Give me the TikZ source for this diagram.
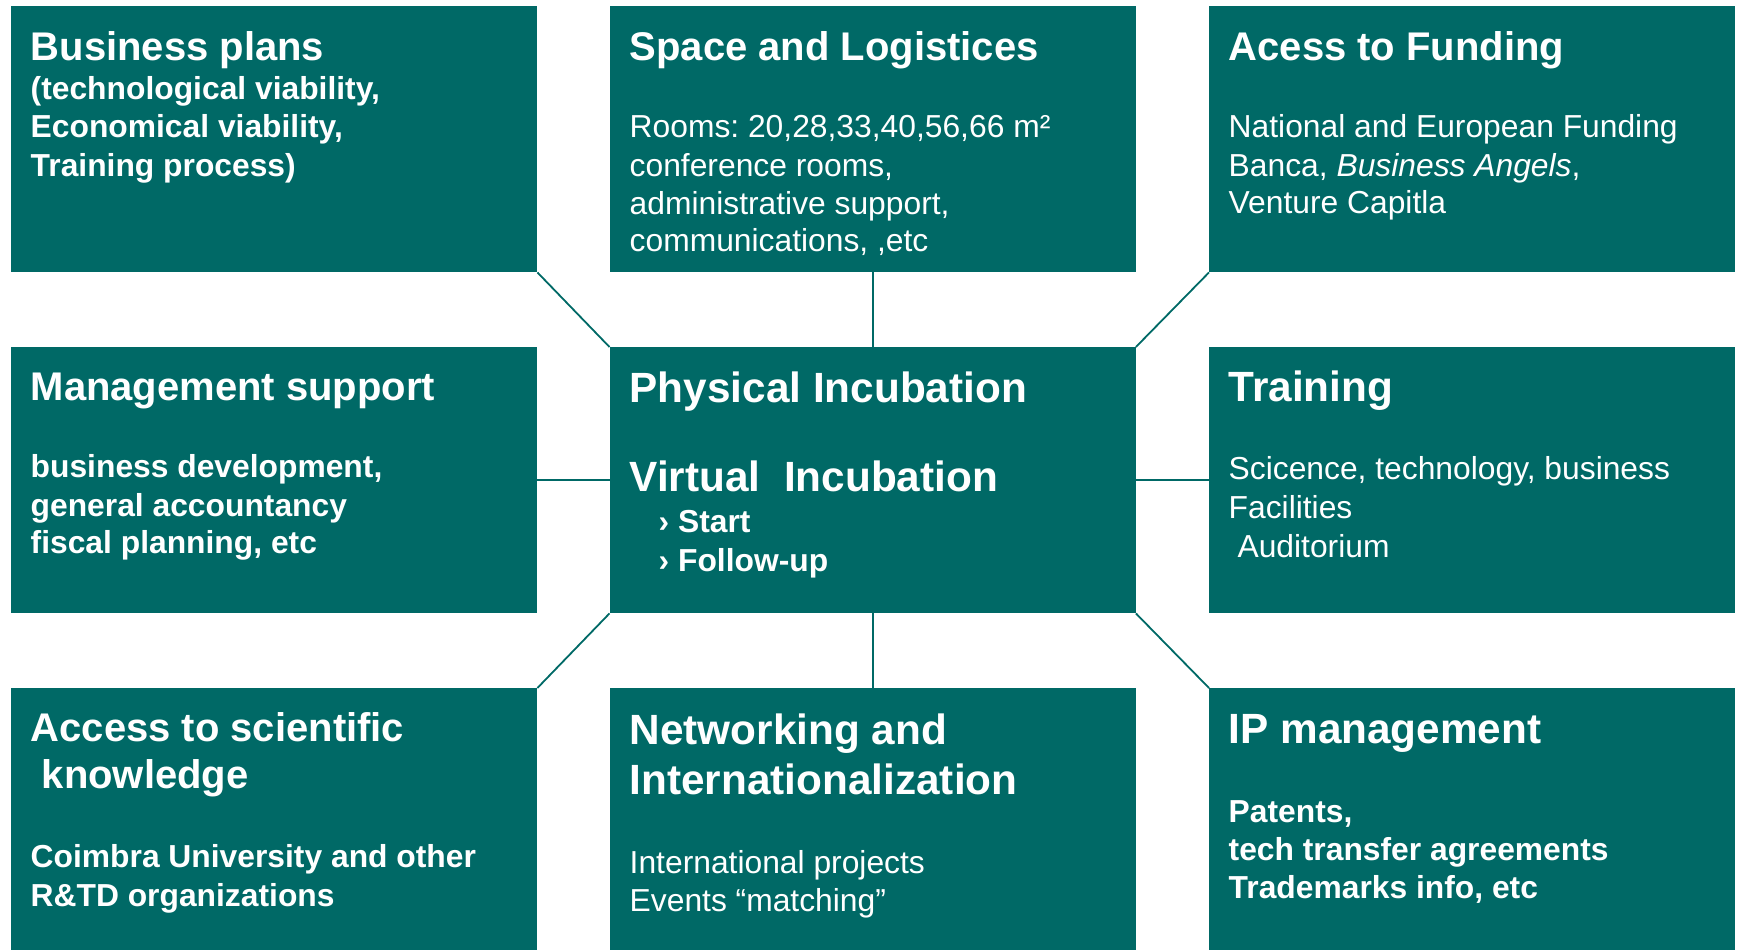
\documentclass[tikz,border=0pt]{standalone}
\usepackage{fontspec}
\setmainfont{Liberation Sans}
\frenchspacing
\definecolor{boxteal}{RGB}{0,105,102}
\tikzset{
  panel/.style={fill=boxteal, draw=none, inner sep=0pt, anchor=north west, minimum width=526pt, minimum height=266pt},
  conn/.style={draw=boxteal, line width=1.8pt},
  txt/.style={text=white, inner sep=0pt, anchor=base west, xshift=1.5pt, yshift=-1pt},
  ttl/.style={txt, font=\frenchspacing\bfseries\fontsize{40}{48}\selectfont},
  ttlb/.style={txt, font=\frenchspacing\bfseries\fontsize{42.3}{50}\selectfont},
  subb/.style={txt, font=\frenchspacing\bfseries\fontsize{31.8}{38}\selectfont},
  subr/.style={txt, font=\frenchspacing\fontsize{31.8}{38}\selectfont},
}
\begin{document}
\begin{tikzpicture}[x=1pt,y=-1pt]
\useasboundingbox (0,0) rectangle (1737,950);
% panels
\node[panel] (bp)  at (11,6) {};
\node[panel] (sp)  at (609.5,6) {};
\node[panel] (af)  at (1209,6) {};
\node[panel] (ms)  at (11,347) {};
\node[panel] (ctr) at (609.5,347) {};
\node[panel] (tr)  at (1209,347) {};
\node[panel, minimum height=263pt] (as) at (11,688) {};
\node[panel, minimum height=263pt] (nw) at (609.5,688) {};
\node[panel, minimum height=263pt] (ip) at (1209,688) {};
% connectors
\draw[conn] (bp.south east) -- (ctr.north west);
\draw[conn] (sp.south) -- (ctr.north);
\draw[conn] (af.south west) -- (ctr.north east);
\draw[conn] (ms.east) -- (ctr.west);
\draw[conn] (ctr.east) -- (tr.west);
\draw[conn] (ctr.south west) -- (as.north east);
\draw[conn] (ctr.south) -- (nw.north);
\draw[conn] (ctr.south east) -- (ip.north west);
% Business plans
\node[ttl]  (bp1) at (29,59.3) {Business plans};
\node[subb] (bp2) at (29,98.3) {(technological viability,};
\node[subb] (bp3) at (29,136.7) {Economical viability,};
\node[subb] (bp4) at (29,175) {Training process)};
% Space and Logistices
\node[ttl]  (sp1) at (628,59.3) {Space and Logistices};
\node[subr] (sp2) at (628,136.7) {Rooms: 20,28,33,40,56,66 m²};
\node[subr] (sp3) at (628,175) {conference rooms,};
\node[subr] (sp4) at (628,213.3) {administrative support,};
\node[subr] (sp5) at (628,250.7) {communications, ,etc};
% Acess to Funding
\node[ttl]  (af1) at (1227,59.3) {Acess to Funding};
\node[subr] (af2) at (1227,136.7) {National and European Funding};
\node[subr] (af3) at (1227,175) {Banca, \textit{Business Angels},};
\node[subr] (af4) at (1227,212.7) {Venture Capitla};
% Management support
\node[ttl]  (ms1) at (29,399.3) {Management support};
\node[subb] (ms2) at (29,476.7) {business development,};
\node[subb] (ms3) at (29,515) {general accountancy};
\node[subb] (ms4) at (29,552.7) {fiscal planning, etc};
% Center
\node[ttlb] (c1) at (628,401.7) {Physical Incubation};
\node[ttlb] (c2) at (628,490.7) {Virtual\ \ Incubation};
\node[subb] (c3) at (657,531.7) {› Start};
\node[subb] (c4) at (657,570) {› Follow-up};
% Training
\node[ttlb] (tr1) at (1227,400.7) {Training};
\node[subr] (tr2) at (1227,478.3) {Scicence, technology, business};
\node[subr] (tr3) at (1227,517.5) {Facilities};
\node[subr] (tr4) at (1227,556.7) {\ Auditorium};
% Access to scientific knowledge
\node[ttl]  (as1) at (29,740) {Access to scientific};
\node[ttl]  (as2) at (29,787.7) {\ knowledge};
\node[subb] (as3) at (29,866.7) {Coimbra University and other};
\node[subb] (as4) at (29,905) {R\&TD organizations};
% Networking
\node[ttlb] (nw1) at (628,743.3) {Networking and};
\node[ttlb] (nw2) at (628,793.3) {Internationalization};
\node[subr] (nw3) at (628,872.7) {International projects};
\node[subr] (nw4) at (628,910) {Events “matching”};
% IP management
\node[ttlb] (ip1) at (1227,742.7) {IP management};
\node[subb] (ip2) at (1227,821.7) {Patents,};
\node[subb] (ip3) at (1227,859.3) {tech transfer agreements};
\node[subb] (ip4) at (1227,897.7) {Trademarks info, etc};
\end{tikzpicture}
\end{document}
